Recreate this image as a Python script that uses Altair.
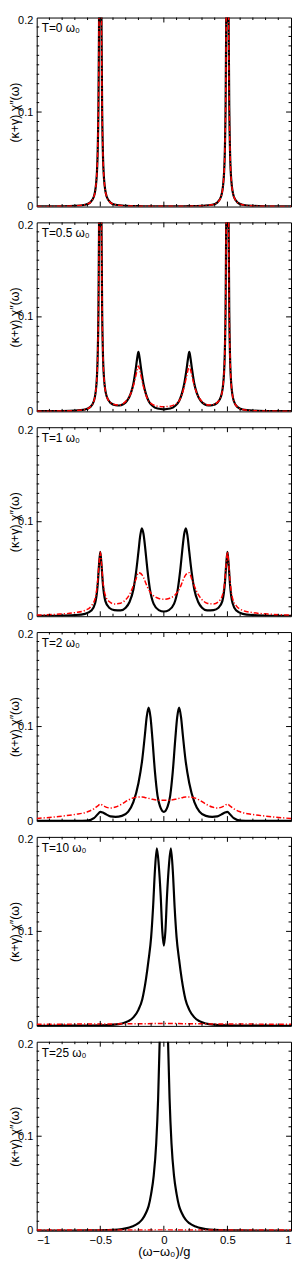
import altair as alt
import pandas as pd

FONT = "Liberation Sans"

# ---------------- data ----------------
temps = ["0", "0.5", "1", "2", "10", "25"]
y_title = "(κ+γ) χ″(ω)"
x_title = "(ω−ω₀)/g"

y_ticks = [0, 0.1, 0.2]
x_ticks = [-1, -0.5, 0, 0.5, 1]
x_major_ticks = [-0.5, 0.0, 0.5]
x_minor_ticks = [-0.9, -0.8, -0.7, -0.6, -0.4, -0.3, -0.2, -0.1,
                 0.1, 0.2, 0.3, 0.4, 0.6, 0.7, 0.8, 0.9]
y_major_ticks = [0.1]
y_minor_ticks = [0.01, 0.02, 0.03, 0.04, 0.05, 0.06, 0.07, 0.08, 0.09,
                 0.11, 0.12, 0.13, 0.14, 0.15, 0.16, 0.17, 0.18, 0.19]

# T = 0
x1 = [-1.0, -0.8, -0.7, -0.62, -0.58, -0.55, -0.53, -0.52, -0.515, -0.51, -0.505, -0.5,
      -0.495, -0.49, -0.485, -0.48, -0.47, -0.45, -0.42, -0.38, -0.3, -0.2, -0.1, 0.0,
      0.1, 0.2, 0.3, 0.38, 0.42, 0.45, 0.47, 0.48, 0.485, 0.49, 0.495, 0.5,
      0.505, 0.51, 0.515, 0.52, 0.53, 0.55, 0.58, 0.62, 0.7, 0.8, 1.0]
y1_black = [0.0001, 0.0003, 0.0007, 0.0019, 0.0042, 0.0106, 0.0286, 0.0607, 0.1, 0.186, 0.386, 0.6,
            0.386, 0.186, 0.1, 0.0607, 0.0286, 0.0106, 0.0042, 0.0019, 0.0008, 0.0004, 0.0003, 0.0002,
            0.0003, 0.0004, 0.0008, 0.0019, 0.0042, 0.0106, 0.0286, 0.0607, 0.1, 0.186, 0.386, 0.6,
            0.386, 0.186, 0.1, 0.0607, 0.0286, 0.0106, 0.0042, 0.0019, 0.0007, 0.0003, 0.0001]
xr1 = x1
y1_red = [0.0001, 0.0003, 0.0007, 0.0019, 0.0042, 0.0106, 0.0286, 0.0607, 0.1, 0.186, 0.386, 0.6,
          0.386, 0.186, 0.1, 0.0607, 0.0286, 0.0106, 0.0042, 0.0019, 0.0008, 0.0004, 0.0003, 0.0002,
          0.0003, 0.0004, 0.0008, 0.0019, 0.0042, 0.0106, 0.0286, 0.0607, 0.1, 0.186, 0.386, 0.6,
          0.386, 0.186, 0.1, 0.0607, 0.0286, 0.0106, 0.0042, 0.0019, 0.0007, 0.0003, 0.0001]

# T = 0.5
x2 = [-1.0, -0.8, -0.7, -0.62, -0.58, -0.55, -0.53, -0.52, -0.515, -0.51,
      -0.505, -0.5, -0.495, -0.49, -0.485, -0.48, -0.47, -0.45, -0.42, -0.38,
      -0.35, -0.32, -0.29, -0.26, -0.24, -0.22, -0.21, -0.2, -0.19, -0.18,
      -0.16, -0.14, -0.12, -0.09, -0.05, 0.0,
      0.05, 0.09, 0.12, 0.14, 0.16, 0.18, 0.19, 0.2, 0.21, 0.22,
      0.24, 0.26, 0.29, 0.32, 0.35, 0.38, 0.42, 0.45, 0.47, 0.48,
      0.485, 0.49, 0.495, 0.5, 0.505, 0.51, 0.515, 0.52, 0.53, 0.55,
      0.58, 0.62, 0.7, 0.8, 1.0]
y2_black = [0.0002, 0.0004, 0.0008, 0.002, 0.0045, 0.011, 0.029, 0.061, 0.1, 0.187,
            0.387, 0.6, 0.388, 0.19, 0.104, 0.066, 0.034, 0.016, 0.009, 0.0065,
            0.0062, 0.0075, 0.011, 0.019, 0.029, 0.046, 0.056, 0.063, 0.056, 0.046,
            0.029, 0.018, 0.011, 0.006, 0.003, 0.0022,
            0.003, 0.006, 0.011, 0.018, 0.029, 0.046, 0.056, 0.063, 0.056, 0.046,
            0.029, 0.019, 0.011, 0.0075, 0.0062, 0.0065, 0.009, 0.016, 0.034, 0.066,
            0.104, 0.19, 0.388, 0.6, 0.387, 0.187, 0.1, 0.061, 0.029, 0.011,
            0.0045, 0.002, 0.0008, 0.0004, 0.0002]
xr2 = x2
y2_red = [0.0002, 0.0004, 0.0008, 0.002, 0.0045, 0.011, 0.029, 0.061, 0.1, 0.187,
          0.387, 0.6, 0.388, 0.19, 0.104, 0.066, 0.034, 0.016, 0.0095, 0.007,
          0.0068, 0.0082, 0.012, 0.019, 0.027, 0.038, 0.044, 0.048, 0.044, 0.038,
          0.026, 0.017, 0.011, 0.0075, 0.0055, 0.005,
          0.0055, 0.0075, 0.011, 0.017, 0.026, 0.038, 0.044, 0.048, 0.044, 0.038,
          0.027, 0.019, 0.012, 0.0082, 0.0068, 0.007, 0.0095, 0.016, 0.034, 0.066,
          0.104, 0.19, 0.388, 0.6, 0.387, 0.187, 0.1, 0.061, 0.029, 0.011,
          0.0045, 0.002, 0.0008, 0.0004, 0.0002]

# T = 1
x3 = [-1.0, -0.85, -0.7, -0.62, -0.57, -0.54, -0.52, -0.51, -0.5, -0.49,
      -0.48, -0.46, -0.43, -0.39, -0.34, -0.3, -0.27, -0.24, -0.22, -0.2,
      -0.185, -0.173, -0.16, -0.145, -0.13, -0.11, -0.08, -0.04, 0.0,
      0.04, 0.08, 0.11, 0.13, 0.145, 0.16, 0.173, 0.185, 0.2, 0.22,
      0.24, 0.27, 0.3, 0.34, 0.39, 0.43, 0.46, 0.48, 0.49, 0.5,
      0.51, 0.52, 0.54, 0.57, 0.62, 0.7, 0.85, 1.0]
y3_black = [0.0003, 0.0005, 0.0012, 0.0025, 0.006, 0.014, 0.034, 0.054, 0.068, 0.054,
            0.035, 0.016, 0.009, 0.0065, 0.0062, 0.009, 0.015, 0.028, 0.045, 0.068,
            0.086, 0.093, 0.087, 0.07, 0.05, 0.029, 0.013, 0.0065, 0.005,
            0.0065, 0.013, 0.029, 0.05, 0.07, 0.087, 0.093, 0.086, 0.068, 0.045,
            0.028, 0.015, 0.009, 0.0062, 0.0065, 0.009, 0.016, 0.035, 0.054, 0.068,
            0.054, 0.034, 0.014, 0.006, 0.0025, 0.0012, 0.0005, 0.0003]
xr3 = x3
y3_red = [0.0012, 0.002, 0.0038, 0.0062, 0.011, 0.019, 0.038, 0.055, 0.068, 0.055,
          0.038, 0.022, 0.0155, 0.013, 0.0138, 0.0175, 0.023, 0.032, 0.039, 0.046,
          0.0455, 0.044, 0.041, 0.036, 0.031, 0.026, 0.0215, 0.0188, 0.018,
          0.0188, 0.0215, 0.026, 0.031, 0.036, 0.041, 0.044, 0.0455, 0.046, 0.039,
          0.032, 0.023, 0.0175, 0.0138, 0.013, 0.0155, 0.022, 0.038, 0.055, 0.068,
          0.055, 0.038, 0.019, 0.011, 0.0062, 0.0038, 0.002, 0.0012]

# T = 2
x4 = [-1.0, -0.85, -0.7, -0.6, -0.55, -0.52, -0.5, -0.48, -0.45, -0.42,
      -0.38, -0.33, -0.28, -0.24, -0.2, -0.17, -0.15, -0.135, -0.12, -0.105,
      -0.09, -0.07, -0.05, -0.03, 0.0,
      0.03, 0.05, 0.07, 0.09, 0.105, 0.12, 0.135, 0.15, 0.17, 0.2,
      0.24, 0.28, 0.33, 0.38, 0.42, 0.45, 0.48, 0.5, 0.52, 0.55,
      0.6, 0.7, 0.85, 1.0]
y4_black = [0.0001, 0.0001, 0.0002, 0.0005, 0.003, 0.0072, 0.0097, 0.009, 0.0068, 0.005,
            0.0045, 0.0055, 0.01, 0.02, 0.04, 0.065, 0.09, 0.11, 0.12, 0.11,
            0.087, 0.052, 0.027, 0.0155, 0.0097,
            0.0155, 0.027, 0.052, 0.087, 0.11, 0.12, 0.11, 0.09, 0.065, 0.04,
            0.02, 0.01, 0.0055, 0.0045, 0.005, 0.0068, 0.009, 0.0097, 0.0072, 0.003,
            0.0005, 0.0002, 0.0001, 0.0001]
xr4 = x4
y4_red = [0.0027, 0.0045, 0.007, 0.0098, 0.013, 0.016, 0.018, 0.0165, 0.0145, 0.0138,
          0.0148, 0.018, 0.0222, 0.0245, 0.0255, 0.0255, 0.025, 0.0245, 0.024, 0.0235,
          0.023, 0.0225, 0.0222, 0.022, 0.022,
          0.022, 0.0222, 0.0225, 0.023, 0.0235, 0.024, 0.0245, 0.025, 0.0255, 0.0255,
          0.0245, 0.0222, 0.018, 0.0148, 0.0138, 0.0145, 0.0165, 0.018, 0.016, 0.013,
          0.0098, 0.007, 0.0045, 0.0027]

# T = 10
x5 = [-1.0, -0.8, -0.6, -0.5, -0.4, -0.33, -0.28, -0.24, -0.2, -0.17,
      -0.14, -0.12, -0.1, -0.085, -0.07, -0.055, -0.04, -0.025, -0.012, 0.0,
      0.012, 0.025, 0.04, 0.055, 0.07, 0.085, 0.1, 0.12, 0.14,
      0.17, 0.2, 0.24, 0.28, 0.33, 0.4, 0.5, 0.6, 0.8, 1.0]
y5_black = [0.0001, 0.0002, 0.0004, 0.0006, 0.0012, 0.0025, 0.005, 0.009, 0.017, 0.028,
            0.05, 0.07, 0.094, 0.125, 0.165, 0.188, 0.17, 0.138, 0.1, 0.085,
            0.1, 0.138, 0.17, 0.188, 0.165, 0.125, 0.094, 0.07, 0.05,
            0.028, 0.017, 0.009, 0.005, 0.0025, 0.0012, 0.0006, 0.0004, 0.0002, 0.0001]
xr5 = [-1.0, -0.5, -0.2, 0.0, 0.2, 0.5, 1.0]
y5_red = [0.0018, 0.002, 0.0023, 0.0025, 0.0023, 0.002, 0.0018]

# T = 25
x6 = [-1.0, -0.8, -0.6, -0.45, -0.36, -0.3, -0.25, -0.2, -0.17, -0.14,
      -0.12, -0.1, -0.08, -0.06, -0.045, -0.033, -0.02, -0.01, 0.0,
      0.01, 0.02, 0.033, 0.045, 0.06, 0.08, 0.1, 0.12, 0.14,
      0.17, 0.2, 0.25, 0.3, 0.36, 0.45, 0.6, 0.8, 1.0]
y6_black = [0.0001, 0.00015, 0.0003, 0.0006, 0.0012, 0.0025, 0.0045, 0.008, 0.012, 0.019,
            0.026, 0.039, 0.058, 0.0925, 0.14, 0.2, 0.294, 0.369, 0.404,
            0.369, 0.294, 0.2, 0.14, 0.0925, 0.058, 0.039, 0.026, 0.019,
            0.012, 0.008, 0.0045, 0.0025, 0.0012, 0.0006, 0.0003, 0.00015, 0.0001]
xr6 = [-1.0, -0.5, 0.0, 0.5, 1.0]
y6_red = [0.0008, 0.0008, 0.0009, 0.0008, 0.0008]

panels_data = [
    (x1, y1_black, xr1, y1_red),
    (x2, y2_black, xr2, y2_red),
    (x3, y3_black, xr3, y3_red),
    (x4, y4_black, xr4, y4_red),
    (x5, y5_black, xr5, y5_red),
    (x6, y6_black, xr6, y6_red),
]

# ---------------- layout / style ----------------
W, H = 257, 191
XS = alt.Scale(domain=[-1, 1], nice=False, zero=False)
YS = alt.Scale(domain=[0, 0.2], nice=False, zero=False)
X_PER_PX = 2.0 / W
Y_PER_PX = 0.2 / H
MAJ, MIN = 5.0, 2.5

# inward tick segments (MATLAB-style box ticks)
rows = []
for v in x_major_ticks + x_minor_ticks:
    L = (MAJ if v in x_major_ticks else MIN) * Y_PER_PX
    rows.append({"x": v, "x2": v, "y": 0.0, "y2": L})
    rows.append({"x": v, "x2": v, "y": 0.2, "y2": 0.2 - L})
for v in y_major_ticks + y_minor_ticks:
    L = (MAJ if v in y_major_ticks else MIN) * X_PER_PX
    rows.append({"x": -1.0, "x2": -1.0 + L, "y": v, "y2": v})
    rows.append({"x": 1.0, "x2": 1.0 - L, "y": v, "y2": v})
tick_df = pd.DataFrame(rows)


def make_panel(i):
    xb, yb, xr, yr = panels_data[i]
    last = i == len(panels_data) - 1
    yaxis = alt.Axis(
        orient="left",
        values=y_ticks, format="~g", ticks=False, domain=False, grid=False,
        labelPadding=4, labelFontSize=11, labelLineHeight=6,
        labelBaseline={"condition": {"test": "datum.value >= 0.2", "value": "line-top"},
                       "value": "middle"},
        title=y_title, titleX=-18, titleBaseline="alphabetic",
        titleFontSize=12.5, titleFontWeight="normal",
    )
    if last:
        xaxis = alt.Axis(
            orient="bottom",
            values=x_ticks, format="~g", ticks=False, domain=False, grid=False,
            labelPadding=4, labelFontSize=11.5, title=x_title, titlePadding=0,
            titleFontSize=13, titleFontWeight="normal",
        )
    else:
        xaxis = None

    black = alt.Chart(pd.DataFrame({"x": xb, "y": yb})).mark_line(
        color="black", strokeWidth=2.2, clip=True, interpolate="monotone"
    ).encode(
        x=alt.X("x:Q", scale=XS, axis=xaxis),
        y=alt.Y("y:Q", scale=YS, axis=yaxis),
    )
    red = alt.Chart(pd.DataFrame({"x": xr, "y": yr})).mark_line(
        color="#ff0000", strokeWidth=1.5, clip=True, interpolate="monotone",
        strokeDash=[5, 2, 1.2, 2],
    ).encode(
        x=alt.X("x:Q", scale=XS, axis=xaxis),
        y=alt.Y("y:Q", scale=YS, axis=yaxis),
    )
    ticks = alt.Chart(tick_df).mark_rule(color="black", strokeWidth=1).encode(
        x=alt.X("x:Q", scale=XS, axis=xaxis), x2="x2:Q",
        y=alt.Y("y:Q", scale=YS, axis=yaxis), y2="y2:Q",
    )
    label = alt.Chart(pd.DataFrame({"t": [f"T={temps[i]} ω₀"]})).mark_text(
        align="left", baseline="alphabetic", font=FONT, fontSize=12, color="black"
    ).encode(x=alt.value(5), y=alt.value(15), text="t:N")
    return alt.layer(black, red, ticks, label).properties(width=W, height=H)


chart = alt.vconcat(
    *[make_panel(i) for i in range(len(panels_data))], spacing=16, bounds="flush"
).properties(
    padding={"left": 0, "top": -1, "right": 0, "bottom": 0}
).configure_view(
    stroke="black", strokeWidth=1
).configure_axis(
    labelFont=FONT, titleFont=FONT, labelColor="black", titleColor="black"
)

chart.save("out.html", embed_options={"renderer": "svg", "actions": False})
